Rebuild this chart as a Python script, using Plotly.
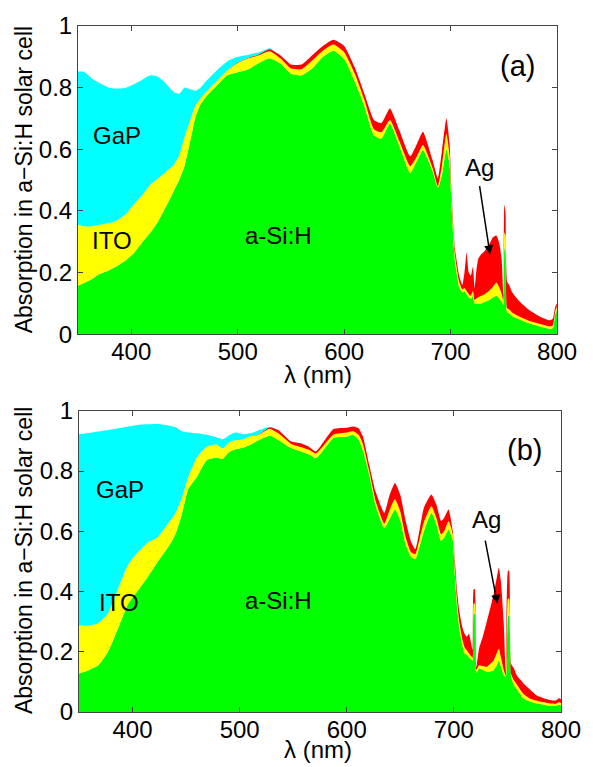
import plotly.graph_objects as go

# ---------------- panel (a) ----------------
wl_a = [350, 355, 363, 370, 379, 387, 395, 402, 410, 418, 425, 432, 440, 445, 450, 455, 460, 465, 470, 480,
        490, 500, 510, 520, 530, 540, 550, 560, 570, 580, 590, 600, 610, 619, 628, 635, 643, 652, 662, 668,
        674, 683, 688, 692, 696, 699, 701, 704, 708, 711, 713, 715, 717, 719, 721, 722.5, 724, 726, 729, 732,
        736, 740, 743, 746, 748, 749.5, 750.5, 751.5, 753, 755, 758, 765, 775, 785, 793, 796, 798, 799.5, 800]
asi_a = [.157, .165, .178, .195, .207, .222, .240, .262, .297, .330, .365, .410, .465, .500, .545, .620, .700, .745, .770, .805,
         .840, .850, .860, .880, .895, .878, .845, .840, .862, .900, .920, .893, .820, .740, .645, .635, .684, .610, .523, .560,
         .598, .530, .474, .520, .600, .550, .410, .240, .155, .135, .140, .130, .120, .115, .125, .100, .100, .100, .100, .105,
         .110, .120, .125, .115, .105, .095, .280, .270, .072, .068, .058, .047, .034, .024, .017, .020, .060, .080, .060]
ito_a = [.355, .350, .350, .355, .360, .370, .390, .420, .450, .485, .505, .525, .550, .580, .640, .690, .740, .765, .785, .820,
         .855, .880, .895, .905, .918, .895, .862, .860, .888, .920, .940, .915, .845, .760, .665, .655, .695, .625, .545, .575,
         .614, .540, .480, .550, .650, .580, .430, .260, .170, .145, .150, .140, .130, .125, .140, .110, .115, .120, .125, .130,
         .140, .155, .168, .150, .130, .110, .330, .320, .085, .080, .070, .057, .042, .032, .025, .028, .070, .090, .070]
ag_a = [.355, .350, .350, .355, .360, .370, .390, .420, .450, .485, .505, .525, .550, .580, .640, .690, .740, .765, .785, .820,
        .855, .882, .897, .908, .925, .905, .875, .875, .905, .935, .955, .935, .865, .780, .695, .685, .732, .660, .577, .615,
        .657, .565, .506, .600, .700, .620, .450, .280, .190, .160, .200, .265, .200, .190, .220, .150, .200, .245, .260, .270,
        .290, .315, .320, .290, .240, .130, .420, .400, .170, .160, .135, .105, .075, .055, .045, .050, .085, .100, .085]
gap_a = [.852, .852, .830, .815, .800, .797, .800, .810, .825, .840, .835, .815, .785, .780, .800, .795, .790, .800, .820, .855,
         .885, .900, .907, .915, .928, .905, .875, .875, .905, .935, .955, .935, .865, .780, .695, .685, .732, .660, .577, .615,
         .657, .565, .506, .600, .700, .620, .450, .280, .190, .160, .200, .265, .200, .190, .220, .150, .200, .245, .260, .270,
         .290, .315, .320, .290, .240, .130, .420, .400, .170, .160, .135, .105, .075, .055, .045, .050, .085, .100, .085]

# ---------------- panel (b) ----------------
wl_b = [350, 359, 368, 377, 387, 396, 405, 414, 423, 435, 440, 446, 452, 460, 469, 478, 484, 490, 496, 503,
        510, 518, 528, 536, 548, 557, 565, 571, 576, 582, 588, 600, 606, 611, 615, 621, 627, 635, 640, 645,
        650, 655, 660, 664, 668, 672, 679, 684, 688, 691, 695, 699, 701, 703, 705, 708, 710, 712, 714, 716,
        717.5, 718.5, 719.5, 721, 723.5, 727, 731, 734, 737, 740, 742, 744, 746.5, 748.5, 750.5, 751.5, 753.5, 756, 759, 765,
        771, 777, 784, 790, 795, 798, 800]
asi_b = [.128, .139, .155, .199, .282, .359, .403, .447, .496, .557, .590, .656, .740, .780, .835, .845, .840, .862, .872, .877,
         .887, .903, .917, .903, .876, .865, .855, .843, .860, .887, .911, .914, .920, .905, .870, .788, .685, .611, .640, .672,
         .635, .557, .515, .507, .550, .600, .661, .620, .568, .580, .606, .570, .450, .350, .280, .220, .195, .190, .182, .175,
         .170, .326, .326, .130, .145, .140, .133, .135, .139, .155, .172, .150, .122, .117, .320, .320, .117, .090, .075, .045,
         .035, .029, .024, .020, .020, .025, .022]
ito_b = [.287, .287, .295, .326, .414, .490, .530, .562, .579, .634, .660, .710, .780, .845, .880, .889, .875, .895, .902, .905,
         .915, .920, .940, .925, .890, .880, .870, .858, .875, .900, .922, .928, .932, .920, .890, .800, .700, .625, .670, .706,
         .665, .580, .530, .524, .575, .630, .683, .640, .590, .600, .634, .590, .470, .370, .300, .240, .215, .205, .195, .185,
         .180, .360, .360, .140, .155, .152, .150, .160, .170, .195, .210, .180, .140, .120, .376, .376, .125, .105, .090, .060,
         .045, .038, .032, .028, .027, .032, .030]
ag_b = [.287, .287, .295, .326, .414, .490, .530, .562, .579, .634, .660, .710, .780, .845, .880, .889, .875, .895, .902, .905,
        .915, .922, .945, .936, .898, .892, .880, .865, .885, .915, .940, .944, .948, .942, .915, .820, .730, .661, .720, .760,
        .720, .634, .565, .540, .605, .678, .722, .685, .634, .645, .672, .600, .500, .400, .337, .280, .260, .250, .260, .230,
        .205, .408, .408, .150, .211, .250, .304, .345, .390, .445, .480, .430, .300, .125, .469, .469, .160, .145, .120, .095,
        .075, .056, .046, .040, .038, .046, .042]
gap_b = [.922, .926, .931, .936, .942, .948, .953, .955, .956, .950, .945, .932, .928, .925, .920, .912, .905, .918, .928, .922,
         .925, .935, .947, .936, .898, .892, .880, .865, .885, .915, .940, .944, .948, .942, .915, .820, .730, .661, .720, .760,
         .720, .634, .565, .540, .605, .678, .722, .685, .634, .645, .672, .600, .500, .400, .337, .280, .260, .250, .260, .230,
         .205, .408, .408, .150, .211, .250, .304, .345, .390, .445, .480, .430, .300, .125, .469, .469, .160, .145, .120, .095,
         .075, .056, .046, .040, .038, .046, .042]

x_ticks = [400, 500, 600, 700, 800]
layer_names = ["a-Si:H", "ITO", "Ag", "GaP"]
layer_colors = ["#00FF00", "#FFFF00", "#FF0000", "#00FFFF"]

fig = go.Figure()

def add_panel(wl, layers, xa, ya):
    for i, (vals, name, col) in enumerate(zip(layers, layer_names, layer_colors)):
        fig.add_trace(go.Scatter(
            x=wl, y=vals, name=name, mode="lines",
            line=dict(width=0, color=col, shape="spline", smoothing=0.5),
            fill="tozeroy" if i == 0 else "tonexty",
            fillcolor=col, xaxis=xa, yaxis=ya, showlegend=False,
            hoverinfo="skip"))

add_panel(wl_a, [asi_a, ito_a, ag_a, gap_a], "x", "y")
add_panel(wl_b, [asi_b, ito_b, ag_b, gap_b], "x2", "y2")

FONT = "Liberation Sans, Arial, sans-serif"
axis_common = dict(
    showline=True, mirror="ticks", linecolor="#444", linewidth=1,
    ticks="inside", ticklen=5, tickcolor="#444", showgrid=False, zeroline=False,
    tickfont=dict(family=FONT, size=24, color="#000"),
)

W, H = 593, 767
ml, mr, mt, mb = 78, 21, 22, 55
pw, ph = W - ml - mr, H - mt - mb

def xdom(p0, p1):
    return [(p0 - ml) / pw, (p1 - ml) / pw]

def ydom(top, bot):
    return [(H - mb - bot) / ph, (H - mb - top) / ph]

fig.update_layout(
    width=W, height=H,
    margin=dict(l=ml, r=mr, t=mt, b=mb),
    paper_bgcolor="white", plot_bgcolor="white",
    xaxis=dict(domain=xdom(78, 568), range=[350, 800], tickvals=x_ticks, anchor="y",
               ticklabelstandoff=-4, **axis_common),
    yaxis=dict(domain=ydom(22, 332), range=[0, 1], dtick=0.2, anchor="x", **axis_common),
    xaxis2=dict(domain=xdom(79, 572), range=[350, 800], tickvals=x_ticks, anchor="y2",
                ticklabelstandoff=-4, **axis_common),
    yaxis2=dict(domain=ydom(409, 712), range=[0, 1], dtick=0.2, anchor="x2", **axis_common),
)

def px_x(p):
    return (p - ml) / pw

def px_y(p):
    return (H - mb - p) / ph

ann = []
tf = dict(family=FONT, size=24, color="#000")
# axis titles
for ty, cy in [(373, 177), (750, 560)]:
    ann.append(dict(text="λ (nm)", xref="paper", yref="paper", x=px_x(323), y=px_y(ty),
                    showarrow=False, font=tf, xanchor="center", yanchor="middle"))
    ann.append(dict(text="Absorption in a−Si:H solar cell", xref="paper", yref="paper",
                    x=px_x(23), y=px_y(cy), textangle=-90, showarrow=False,
                    font=dict(family=FONT, size=23, color="#000"), xanchor="center", yanchor="middle"))

# panel labels
labels_a = [("GaP", 387, 0.645), ("ITO", 382, 0.303), ("a-Si:H", 538, 0.32), ("Ag", 727, 0.54)]
labels_b = [("GaP", 388, 0.74), ("ITO", 387, 0.364), ("a-Si:H", 536, 0.37), ("Ag", 730, 0.64)]
for txt, lx, ly in labels_a:
    ann.append(dict(text=txt, x=lx, y=ly, xref="x", yref="y", showarrow=False, font=tf))
for txt, lx, ly in labels_b:
    ann.append(dict(text=txt, x=lx, y=ly, xref="x2", yref="y2", showarrow=False, font=tf))
ann.append(dict(text="(a)", x=763, y=0.87, xref="x", yref="y", showarrow=False,
                font=dict(family=FONT, size=29, color="#000")))
ann.append(dict(text="(b)", x=766, y=0.87, xref="x2", yref="y2", showarrow=False,
                font=dict(family=FONT, size=29, color="#000")))
# arrows
ann.append(dict(text="", x=737, y=0.259, ax=727, ay=0.485, xref="x", yref="y", axref="x", ayref="y",
                showarrow=True, arrowhead=2, arrowsize=1.2, arrowwidth=1.5, arrowcolor="#000"))
ann.append(dict(text="", x=740.6, y=0.359, ax=729, ay=0.574, xref="x2", yref="y2", axref="x2", ayref="y2",
                showarrow=True, arrowhead=2, arrowsize=1.2, arrowwidth=1.5, arrowcolor="#000"))
fig.update_layout(annotations=ann)

fig.write_html("out.html", config={"displayModeBar": False},
               post_script="document.body.style.margin='0px';document.body.style.padding='0px';")
